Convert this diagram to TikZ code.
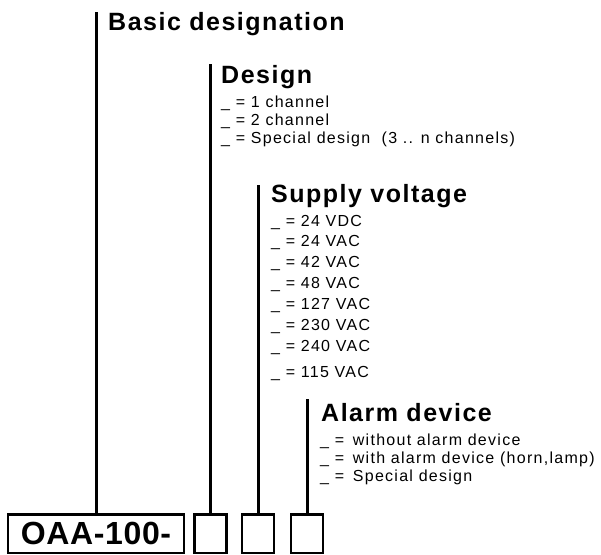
\documentclass[tikz,border=0pt]{standalone}
\usepackage{fontspec}
\setmainfont{Liberation Sans}
\newfontfamily\titlefont[LetterSpace=6]{Liberation Sans}
\newfontfamily\itemfont[LetterSpace=8]{Liberation Sans}
\newfontfamily\codefont[LetterSpace=2]{Liberation Sans}
\begin{document}
\begin{tikzpicture}[x=1pt,y=-1pt,
  title/.style={anchor=base west,inner sep=0pt,font=\titlefont\bfseries\fontsize{25}{30}\selectfont},
  item/.style={anchor=base west,inner sep=0pt,font=\itemfont\fontsize{16}{19}\selectfont},
  vline/.style={line width=3pt},
  codebox/.style={draw,line width=2.5pt,minimum width=176pt,minimum height=38.5pt,inner sep=0pt,font=\codefont\bfseries\fontsize{32}{36}\selectfont},
  slot/.style={draw,line width=2.5pt,minimum width=32pt,minimum height=38.5pt,inner sep=0pt}]
\useasboundingbox (0,0) rectangle (601,554);
% boxes
\node[codebox] (code) at (96,533.5) {OAA-100-};
\node[slot] (s1) at (210.5,533.5) {};
\node[slot] (s2) at (258,533.5) {};
\node[slot] (s3) at (307,533.5) {};
% line tops
\coordinate (t0) at (96,12);
\coordinate (t1) at (210.5,64);
\coordinate (t2) at (258,185);
\coordinate (t3) at (307,399);
\draw[vline] (t0) -- (code.north);
\draw[vline] (t1) -- (s1.north);
\draw[vline] (t2) -- (s2.north);
\draw[vline] (t3) -- (s3.north);
% titles
\node[title] (basic) at (108,30) {Basic designation};
\node[title] (design) at (221,83) {Design};
\node[title] (supply) at (271,202) {Supply voltage};
\node[title] (alarm) at (321,421) {Alarm device};
% design items
\node[item] (d1) at (221,107) {\_ = 1 channel};
\node[item] (d2) at (221,125) {\_ = 2 channel};
\node[item] (d3) at (221,143) {\_ = Special design\ \ (3 .. n channels)};
% supply items
\node[item] (v1) at (271,226) {\_ = 24 VDC};
\node[item] (v2) at (271,246) {\_ = 24 VAC};
\node[item] (v3) at (271,267) {\_ = 42 VAC};
\node[item] (v4) at (271,288) {\_ = 48 VAC};
\node[item] (v5) at (271,309) {\_ = 127 VAC};
\node[item] (v6) at (271,330) {\_ = 230 VAC};
\node[item] (v7) at (271,351) {\_ = 240 VAC};
\node[item] (v8) at (271,377) {\_ = 115 VAC};
% alarm items
\node[item] (a1) at (320,445) {\_ =\hspace{3pt} without alarm device};
\node[item] (a2) at (320,463) {\_ =\hspace{3pt} with alarm device (horn,lamp)};
\node[item] (a3) at (320,481) {\_ =\hspace{3pt} Special design};
\end{tikzpicture}
\end{document}
